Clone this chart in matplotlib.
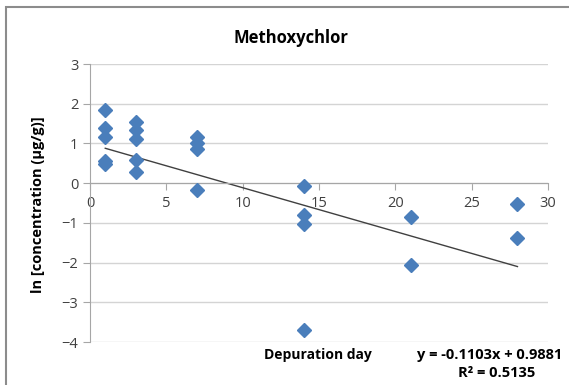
import matplotlib
matplotlib.use('Agg')
import matplotlib.pyplot as plt
from matplotlib.patches import Rectangle

plt.rcParams['font.family'] = ['Open Sans', 'DejaVu Sans']

# depuration day and ln concentration for each sample
days = [1, 1, 1, 1, 1,
        3, 3, 3, 3, 3,
        7, 7, 7, 7,
        14, 14, 14, 14,
        21, 21,
        28, 28]
ln_conc = [1.85, 1.40, 1.17, 0.55, 0.48,
           1.54, 1.35, 1.12, 0.58, 0.29,
           1.15, 1.00, 0.86, -0.17,
           -0.07, -0.81, -1.02, -3.70,
           -0.84, -2.06,
           -0.53, -1.37]

slope = -0.1103
intercept = 0.9881
r_squared = 0.5135
x_ticks = [0, 5, 10, 15, 20, 25, 30]
y_ticks = [-4, -3, -2, -1, 0, 1, 2, 3]

fig = plt.figure(figsize=(5.69, 3.85), dpi=100)
fig.patches.append(Rectangle((6 / 569, -0.1), 1.2, 1 - 7 / 385 + 0.1,
                             transform=fig.transFigure, fill=False,
                             edgecolor='#8c8c8c', linewidth=1.5))

ax = fig.add_axes([90 / 569, 43 / 385, 458 / 569, 278 / 385])
ax.set_xlim(0, 30)
ax.set_ylim(-4, 3)
ax.set_yticks(y_ticks)
ax.set_xticks(x_ticks)
ax.yaxis.grid(True, color='#d4d4d4', linewidth=1)
ax.set_axisbelow(True)

for side in ['top', 'right']:
    ax.spines[side].set_visible(False)
ax.spines['left'].set_color('#a6a6a6')
ax.spines['bottom'].set_color('#a6a6a6')
ax.spines['bottom'].set_position(('data', 0))
ax.tick_params(axis='both', colors='#a6a6a6', labelcolor='#404040',
               labelsize=10.5, length=5)
ax.tick_params(axis='x', pad=4)

ax.plot(days, ln_conc, linestyle='none', marker='D', markersize=7,
        color='#4a7ebb', zorder=3)

# linear trend over the sampled days
trend_x = [min(days), max(days)]
trend_y = [slope * x + intercept for x in trend_x]
ax.plot(trend_x, trend_y, color='#404040', linewidth=1, zorder=2)

fig.text(291 / 569, 1 - 38 / 385, 'Methoxychlor', ha='center', va='center',
         fontsize=12, fontweight='bold')
fig.text(38 / 569, 1 - 205 / 385, 'ln [concentration (µg/g)]', ha='center',
         va='center', rotation=90, fontsize=10.5, fontweight='bold')
fig.text(318 / 569, 1 - 355 / 385, 'Depuration day', ha='center', va='center',
         fontsize=10, fontweight='bold')
fig.text(490 / 569, 1 - 355 / 385, f'y = {slope}x + {intercept}', ha='center',
         va='center', fontsize=10.5, fontweight='bold')
fig.text(497 / 569, 1 - 373 / 385, f'R² = {r_squared}', ha='center',
         va='center', fontsize=10.5, fontweight='bold')

fig.savefig('out.png', dpi=100)
